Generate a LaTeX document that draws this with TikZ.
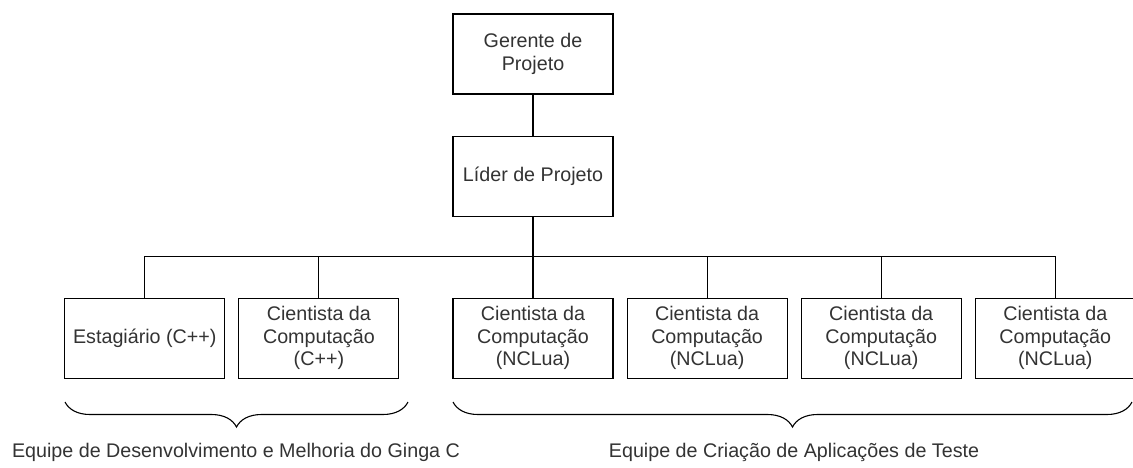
\documentclass[tikz,border=0pt]{standalone}
\usepackage{fontspec}
\setmainfont{Liberation Sans}
\usepackage{tikz}
\usetikzlibrary{positioning, decorations.pathreplacing}

\begin{document}
\begin{tikzpicture}[
    x=1pt, y=1pt,
    node distance=13pt,
    role/.style={rectangle, draw, line width=1.1pt, minimum width=160pt, minimum height=80pt, inner sep=2pt, align=center, font=\fontsize{19.7}{22.5}\selectfont, text=black!80},
    team/.style={align=center, font=\fontsize{19.7}{22.5}\selectfont, text=black!80},
    link/.style={line width=1.1pt},
    bracket/.style={line width=1.1pt, decorate, decoration={brace, mirror, amplitude=25pt}}
]
\useasboundingbox (0,0) rectangle (1133,-467);

% Management
\node[role] (gerente) at (533,-54) {Gerente de\\Projeto};
\node[role, below=41pt of gerente] (lider) {L\'ider de Projeto};

% Ginga C team
\node[role, below=81pt of lider] (nclua1) {Cientista da\\Computa\c{c}\~ao\\(NCLua)};
\node[role, left=53pt of nclua1] (cientC) {Cientista da\\Computa\c{c}\~ao\\(C++)};
\node[role, left=of cientC] (estag) {Estagi\'ario (C++)};

% Test applications team
\node[role, right=of nclua1] (nclua2) {Cientista da\\Computa\c{c}\~ao\\(NCLua)};
\node[role, right=of nclua2] (nclua3) {Cientista da\\Computa\c{c}\~ao\\(NCLua)};
\node[role, right=of nclua3] (nclua4) {Cientista da\\Computa\c{c}\~ao\\(NCLua)};

% Links
\draw[link] (gerente) -- (lider);
\draw[link] (lider) -- (nclua1);
\draw[link] (estag.north) -- ++(0,41) coordinate (busL) -| (nclua4.north);
\foreach \n in {cientC, nclua2, nclua3}
    \draw[link] (\n.north) -- (\n.north |- busL);

% Teams
\coordinate (gingaL) at (65,-402);
\coordinate (gingaR) at (408,-402);
\coordinate (testeL) at (453,-402);
\coordinate (testeR) at (1132,-402);
\draw[bracket] (gingaL) -- (gingaR);
\draw[bracket] (testeL) -- (testeR);
\node[team] (gingaTeam) at (236,-452) {Equipe de Desenvolvimento e Melhoria do Ginga C};
\node[team] (testeTeam) at (794,-452) {Equipe de Cria\c{c}\~ao de Aplica\c{c}\~oes de Teste};

\end{tikzpicture}
\end{document}
